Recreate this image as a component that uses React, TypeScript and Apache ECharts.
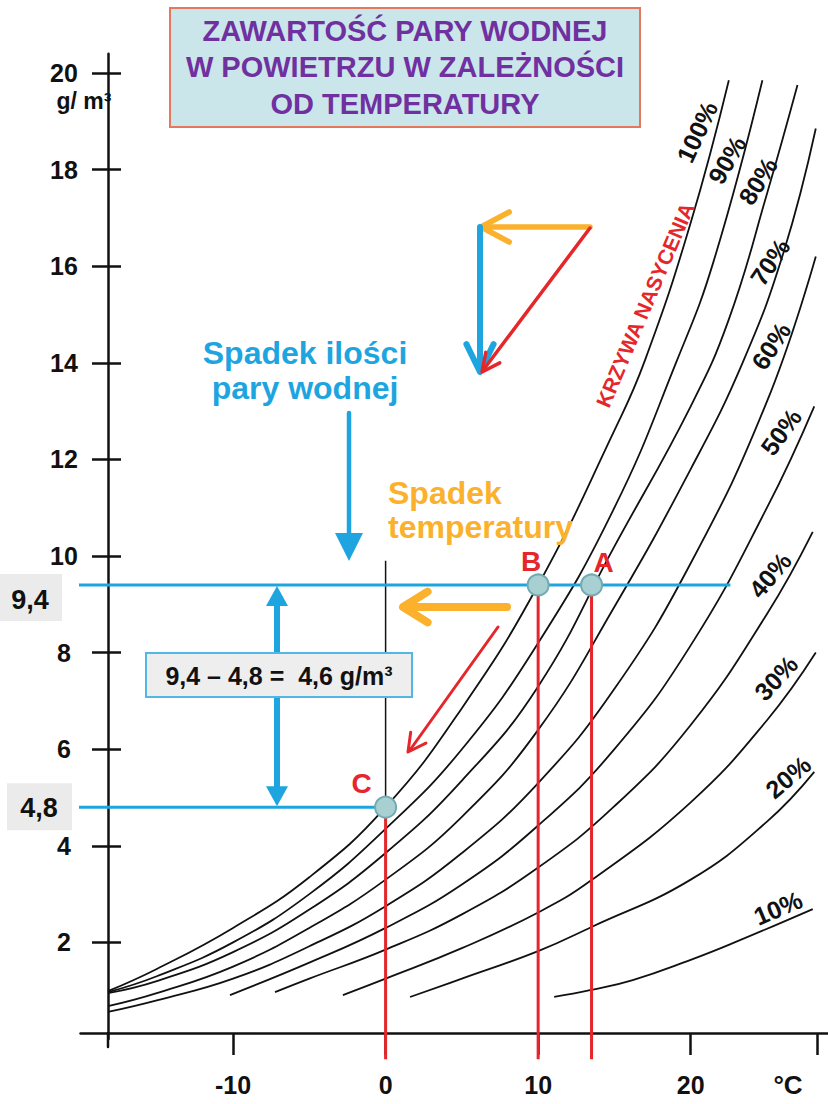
import React, { useEffect, useRef } from "react";
import * as echarts from "echarts";

// ---------- data ----------
const xLabelValues = [-10, 0, 10, 20];
const xTickValues = [-10, 0, 10, 20, 28.3];
const yTickValues = [2, 4, 6, 8, 10, 12, 14, 16, 18, 20];

const curveNames = ["100%", "90%", "80%", "70%", "60%", "50%", "40%", "30%", "20%", "10%"];

const rh100 = [[-18.2, 0.99], [-15, 1.45], [-10, 2.3], [-5, 3.35], [0, 4.8], [5, 6.85], [10, 9.4], [15, 12.6], [17, 14.05], [20, 16.9], [22.5, 19.85]];
const rh90 = [[-18.2, 0.97], [-15, 1.3], [-10, 2.0], [-5, 3.0], [0, 4.35], [5, 6.0], [10, 8.2], [15, 11.0], [19.1, 14.05], [21.5, 16.1], [24.7, 19.85]];
const rh80 = [[-18.2, 0.95], [-15, 1.2], [-10, 1.8], [-5, 2.68], [0, 3.85], [5, 5.35], [10, 7.3], [15, 10.2], [20, 13.1], [22.5, 14.9], [25, 17.5], [27, 19.75]];
const rh70 = [[-18.2, 0.68], [-15, 0.95], [-10, 1.5], [-5, 2.3], [0, 3.3], [5, 4.6], [10, 6.4], [15, 8.95], [20, 11.8], [23.4, 14.0], [26.1, 16.3], [28.2, 18.85]];
const rh60 = [[-18.2, 0.56], [-15, 0.8], [-10, 1.25], [-5, 1.92], [0, 2.75], [5, 3.85], [10, 5.3], [15, 7.25], [20, 9.85], [25, 13.2], [28.2, 16.2]];
const rh50 = [[-10.2, 0.91], [-5, 1.58], [0, 2.3], [5, 3.2], [10, 4.42], [15, 6.0], [20, 8.15], [25, 11.0], [28.1, 13.1]];
const rh40 = [[-7.25, 0.97], [-5, 1.25], [0, 1.85], [5, 2.58], [10, 3.55], [15, 4.82], [20, 6.5], [25, 8.8], [28, 10.5]];
const rh30 = [[-2.8, 0.91], [0, 1.25], [5, 1.88], [10, 2.62], [13.5, 3.29], [20, 4.9], [25, 6.6], [28.2, 8.0]];
const rh20 = [[1.6, 0.87], [5, 1.25], [10, 1.82], [13.5, 2.32], [20, 3.3], [25, 4.5], [28.1, 5.53]];
const rh10 = [[11.05, 0.87], [13.4, 1.01], [16.2, 1.22], [20, 1.64], [22.8, 1.99], [28, 2.69]];
const curves = [rh100, rh90, rh80, rh70, rh60, rh50, rh40, rh30, rh20, rh10];

const pointNames = ["B", "A", "C"];
const pointValues = [[10, 9.4], [13.5, 9.4], [0, 4.8]];

const humidityHigh = 9.4;
const humidityLow = 4.8;
const lineHighX = [-21.1, 22.6];
const lineLowX = [-20.5, 0];
const dropEndY = -0.42;
const zeroLineY = [9.9, 0.12];

const titleText = "ZAWARTOŚĆ PARY WODNEJ\nW POWIETRZU W ZALEŻNOŚCI\nOD TEMPERATURY";
const equationText = "9,4 – 4,8 =  4,6 g/m³";

// ---------- styling ----------
const FONT = '"Liberation Sans", Arial, Helvetica, sans-serif';
const CYAN = "#1ea5df";
const ORANGE = "#fbb12b";
const RED = "#e5262a";
const BLACK = "#111111";

function txt(text: string, x: number, y: number, size: number, fill: string, opts: any = {}) {
  const align = opts.align || "center";
  return {
    type: "text",
    x,
    y,
    rotation: opts.rotation || 0,
    z: opts.z || 100,
    silent: true,
    style: {
      text,
      font: `${opts.weight || "bold"} ${size}px ${FONT}`,
      fill,
      align,
      verticalAlign: "middle",
      textAlign: align,
      textVerticalAlign: "middle",
      lineHeight: opts.lineHeight || size * 1.2,
    },
  };
}

function seg(x1: number, y1: number, x2: number, y2: number, stroke: string, w: number, z = 50) {
  return {
    type: "line",
    z,
    silent: true,
    shape: { x1, y1, x2, y2 },
    style: { stroke, lineWidth: w, lineCap: "round" },
  };
}

function chevron(fromX: number, fromY: number, tipX: number, tipY: number, len: number, deg: number, stroke: string, w: number, z = 50) {
  const dx = fromX - tipX;
  const dy = fromY - tipY;
  const d = Math.hypot(dx, dy);
  const ux = dx / d;
  const uy = dy / d;
  const a = (deg * Math.PI) / 180;
  const p1 = [tipX + len * (ux * Math.cos(a) - uy * Math.sin(a)), tipY + len * (ux * Math.sin(a) + uy * Math.cos(a))];
  const p2 = [tipX + len * (ux * Math.cos(-a) - uy * Math.sin(-a)), tipY + len * (ux * Math.sin(-a) + uy * Math.cos(-a))];
  return {
    type: "polyline",
    z,
    silent: true,
    shape: { points: [p1, [tipX, tipY], p2] },
    style: { stroke, lineWidth: w, lineCap: "round", lineJoin: "round", fill: "none" },
  };
}

function buildGraphics(y94: number, y48: number, axisX: number, axisBottom: number) {
  const rad = (d: number) => (d * Math.PI) / 180;
  const pctPos = [
    [697, 132, 65], [727, 160, 60], [758, 181, 58], [770, 262, 56], [771, 346, 57],
    [781, 432, 54], [770, 575, 50], [776, 678, 47], [788, 777, 40], [778, 908, 23],
  ];
  const els: any[] = [];
  // title
  els.push({
    type: "rect", z: 90, silent: true,
    shape: { x: 170, y: 8, width: 470, height: 119 },
    style: { fill: "#cbe6eb", stroke: "#e5785c", lineWidth: 2 },
  });
  els.push(txt(titleText, 405, 67, 29, "#7030a0", { lineHeight: 36.5 }));
  // units
  els.push(txt("g/ m³", 84, 101, 23, BLACK));
  els.push(txt("°C", 788, 1085, 26, BLACK));
  // y axis extension below x axis
  els.push(seg(axisX, axisBottom, axisX, axisBottom + 14, BLACK, 2.5, 40));
  // percent labels
  curveNames.forEach((n, i) => {
    const [x, y, a] = pctPos[i];
    els.push(txt(n, x, y, 25, BLACK, { rotation: rad(a) }));
  });
  // saturation curve label
  els.push(txt("KRZYWA NASYCENIA", 645, 305, 21, RED, { rotation: rad(67) }));
  // vector triangle
  els.push(seg(590, 227, 484, 227, ORANGE, 5.5));
  els.push(chevron(590, 227, 481, 227, 32, 28, ORANGE, 5.5));
  els.push(seg(480, 227, 480, 368, CYAN, 6));
  els.push(chevron(480, 227, 480, 372, 31, 26, CYAN, 6));
  els.push(seg(590, 228, 484, 369, RED, 3.5));
  els.push(chevron(590, 228, 482, 372, 20, 26, RED, 3.5));
  // Spadek ilości pary wodnej
  els.push(txt("Spadek ilości\npary wodnej", 305, 370, 32, CYAN, { lineHeight: 35 }));
  els.push(seg(349, 413, 349, 536, CYAN, 4.5));
  els.push({
    type: "polygon", z: 50, silent: true,
    shape: { points: [[335, 533], [363, 533], [349, 561]] },
    style: { fill: CYAN },
  });
  // Spadek temperatury
  els.push(txt("Spadek\ntemperatury", 388, 510, 32, ORANGE, { lineHeight: 34, align: "left" }));
  els.push(seg(507, 607, 408, 607, ORANGE, 8));
  els.push(chevron(507, 607, 403, 607, 29, 32, ORANGE, 8));
  // red thin arrow
  els.push(seg(498, 627, 410, 750, RED, 3));
  els.push(chevron(498, 627, 408, 752, 20, 28, RED, 3));
  // value label boxes
  els.push({
    type: "rect", z: 60, silent: true,
    shape: { x: 0, y: y94 - 11, width: 62, height: 47 },
    style: { fill: "#ebebeb" },
  });
  els.push(txt("9,4", 30, y94 + 15, 27, BLACK));
  els.push({
    type: "rect", z: 60, silent: true,
    shape: { x: 7, y: y48 - 24, width: 65, height: 47 },
    style: { fill: "#ebebeb" },
  });
  els.push(txt("4,8", 39, y48 + 1, 27, BLACK));
  // double arrow
  const ax = 277;
  els.push(seg(ax, y94 + 18, ax, y48 - 18, CYAN, 6, 55));
  els.push({
    type: "polygon", z: 55, silent: true,
    shape: { points: [[ax - 11, y94 + 21], [ax + 11, y94 + 21], [ax, y94 + 1]] },
    style: { fill: CYAN },
  });
  els.push({
    type: "polygon", z: 55, silent: true,
    shape: { points: [[ax - 11, y48 - 21], [ax + 11, y48 - 21], [ax, y48 - 1]] },
    style: { fill: CYAN },
  });
  // equation box
  els.push({
    type: "rect", z: 70, silent: true,
    shape: { x: 146, y: 653, width: 266, height: 44 },
    style: { fill: "#eeeeee", stroke: "#52b6e6", lineWidth: 2 },
  });
  els.push(txt(equationText, 279, 676, 25, BLACK, { z: 71 }));
  return els;
}

export default function App() {
  const ref = useRef<HTMLDivElement>(null);
  useEffect(() => {
    if (!ref.current) return;
    const chart = echarts.init(ref.current, null, { renderer: "svg" });
    const axisLineStyle = { color: BLACK, width: 2.5 };
    const curveSeries = curves.map((c, i) => ({
      name: curveNames[i],
      type: "line",
      data: c,
      smooth: 0.45,
      showSymbol: false,
      symbol: "none",
      silent: true,
      z: 2,
      lineStyle: { color: BLACK, width: 1.8 },
    }));
    const plainLine = (data: number[][], color: string, width: number, z = 3) => ({
      type: "line",
      data,
      showSymbol: false,
      symbol: "none",
      silent: true,
      clip: false,
      z,
      lineStyle: { color, width },
    });
    const option: any = {
      animation: false,
      backgroundColor: "#ffffff",
      grid: { left: 80.5, right: 0, top: 53.7, bottom: 65, containLabel: false },
      xAxis: [
        {
          type: "value",
          min: -20,
          max: 29,
          position: "bottom",
          offset: -6,
          axisLine: { show: true, onZero: false, lineStyle: axisLineStyle },
          axisTick: { show: true, customValues: xTickValues, length: 22, lineStyle: axisLineStyle },
          axisLabel: {
            show: true, customValues: xLabelValues, margin: 39,
            color: BLACK, fontSize: 25, fontWeight: "bold", fontFamily: FONT,
          },
          splitLine: { show: false },
        },
      ],
      yAxis: [
        {
          type: "value",
          min: 0,
          max: 20.4,
          position: "left",
          offset: -27.5,
          axisLine: { show: true, onZero: false, lineStyle: axisLineStyle },
          axisTick: { show: true, customValues: yTickValues, length: 16, lineStyle: axisLineStyle },
          axisLabel: {
            show: true, customValues: yTickValues, margin: 44, align: "center",
            color: BLACK, fontSize: 25, fontWeight: "bold", fontFamily: FONT,
          },
          splitLine: { show: false },
        },
        {
          type: "value",
          min: 0,
          max: 20.4,
          position: "left",
          offset: -27.5,
          axisLine: { show: false, onZero: false },
          axisTick: { show: true, inside: true, customValues: yTickValues, length: 13, lineStyle: axisLineStyle },
          axisLabel: { show: false },
          splitLine: { show: false },
        },
      ],
      series: [
        ...curveSeries,
        plainLine([[0, zeroLineY[0]], [0, zeroLineY[1]]], BLACK, 1.5, 2),
        plainLine([[lineHighX[0], humidityHigh], [lineHighX[1], humidityHigh]], CYAN, 3),
        plainLine([[lineLowX[0], humidityLow], [lineLowX[1], humidityLow]], CYAN, 3),
        ...pointValues.map((p) => plainLine([[p[0], p[1]], [p[0], dropEndY]], RED, 3, 4)),
        {
          type: "scatter",
          z: 6,
          silent: true,
          symbolSize: 21,
          itemStyle: { color: "#a8d0d3", borderColor: "#73aab0", borderWidth: 2, opacity: 1 },
          label: {
            show: true,
            position: "inside",
            formatter: (p: any) => p.name,
            color: RED,
            fontSize: 28,
            fontWeight: "bold",
            fontFamily: FONT,
          },
          data: pointValues.map((p, i) => ({
            name: pointNames[i],
            value: p,
            label: { offset: i === 0 ? [-7, -23] : i === 1 ? [12, -22] : [-24, -24] },
          })),
        },
      ],
    };
    chart.setOption(option);
    const pHigh = chart.convertToPixel({ seriesIndex: 0 }, [0, humidityHigh]) as number[];
    const pLow = chart.convertToPixel({ seriesIndex: 0 }, [0, humidityLow]) as number[];
    const pAxis = chart.convertToPixel({ seriesIndex: 0 }, [-18.2, 0]) as number[];
    chart.setOption({ graphic: { elements: buildGraphics(pHigh[1], pLow[1], Math.round(pAxis[0]), pAxis[1] - 6) } });
    return () => chart.dispose();
  }, []);
  return (
    <div
      ref={ref}
      style={{ position: "absolute", left: 0, top: 0, width: 828, height: 1104, background: "#fff" }}
    />
  );
}
